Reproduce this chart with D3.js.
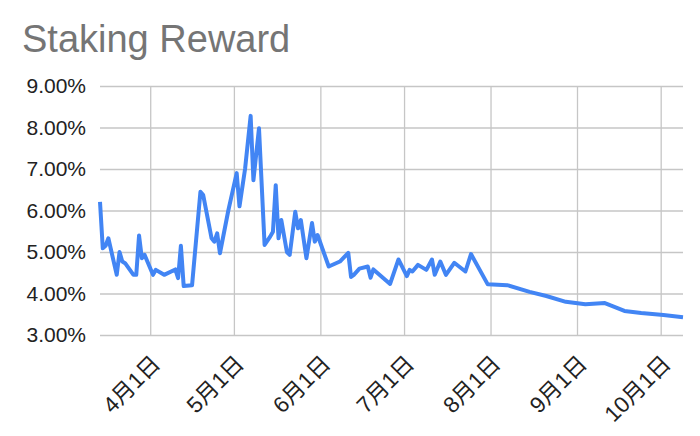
<!DOCTYPE html>
<html>
<head>
<meta charset="utf-8">
<script src="https://cdn.jsdelivr.net/npm/d3@7"></script>
<style>
  body { margin: 0; background: #fff; }
  text { font-family: "Liberation Sans", Arial, "Noto Sans CJK JP", sans-serif; }
</style>
</head>
<body>
<div id="chart"></div>
<script>
// Chart data
const rewardDates = [
  "2021-03-14", "2021-03-15", "2021-03-16", "2021-03-17", "2021-03-20", "2021-03-21",
  "2021-03-22", "2021-03-23", "2021-03-26", "2021-03-27", "2021-03-28", "2021-03-29",
  "2021-03-30", "2021-04-02", "2021-04-03", "2021-04-06", "2021-04-10", "2021-04-11",
  "2021-04-12", "2021-04-13", "2021-04-16", "2021-04-19", "2021-04-20", "2021-04-23",
  "2021-04-24", "2021-04-25", "2021-04-26", "2021-04-29", "2021-05-02", "2021-05-03",
  "2021-05-05", "2021-05-07", "2021-05-08", "2021-05-10", "2021-05-12", "2021-05-14",
  "2021-05-15", "2021-05-16", "2021-05-17", "2021-05-18", "2021-05-20", "2021-05-21",
  "2021-05-23", "2021-05-24", "2021-05-25", "2021-05-27", "2021-05-29", "2021-05-30",
  "2021-05-31", "2021-06-04", "2021-06-08", "2021-06-11", "2021-06-12", "2021-06-13",
  "2021-06-15", "2021-06-18", "2021-06-19", "2021-06-20", "2021-06-26", "2021-06-29",
  "2021-07-02", "2021-07-03", "2021-07-04", "2021-07-06", "2021-07-09", "2021-07-11",
  "2021-07-12", "2021-07-14", "2021-07-16", "2021-07-19", "2021-07-23", "2021-07-25",
  "2021-07-31", "2021-08-07", "2021-08-15", "2021-08-21", "2021-08-28", "2021-09-04",
  "2021-09-11", "2021-09-18", "2021-09-24", "2021-10-02", "2021-10-09"
];
const rewardValues = [
  6.21, 5.09, 5.15, 5.33, 4.45, 5.00,
  4.77, 4.73, 4.45, 4.45, 5.40, 4.85,
  4.93, 4.45, 4.57, 4.45, 4.58, 4.37,
  5.15, 4.18, 4.20, 6.45, 6.37, 5.33,
  5.25, 5.45, 4.97, 6.00, 6.90, 6.10,
  7.00, 8.28, 6.73, 7.98, 5.17, 5.37,
  5.49, 6.61, 5.33, 5.77, 5.00, 4.93,
  5.97, 5.57, 5.77, 4.85, 5.70, 5.25,
  5.41, 4.65, 4.77, 4.98, 4.40, 4.45,
  4.60, 4.65, 4.38, 4.58, 4.23, 4.82,
  4.42, 4.57, 4.53, 4.69, 4.57, 4.82,
  4.45, 4.77, 4.45, 4.74, 4.53, 4.95,
  4.22, 4.20, 4.04, 3.94, 3.80, 3.74,
  3.77, 3.58, 3.53, 3.48, 3.43
];
const xTickDates = ["2021-04-01", "2021-05-01", "2021-06-01", "2021-07-01", "2021-08-01", "2021-09-01", "2021-10-01"];
const xTickLabels = ["4月1日", "5月1日", "6月1日", "7月1日", "8月1日", "9月1日", "10月1日"];
const yTicks = [3, 4, 5, 6, 7, 8, 9];

// Layout
const width = 700, height = 436;
const plot = {left: 100, right: 683, top: 86, bottom: 335};

const parseDate = d3.timeParse("%Y-%m-%d");
const dataset = rewardDates.map((d, i) => ({date: parseDate(d), value: rewardValues[i]}));

let svg = d3.select("#chart")
  .append("svg")
    .attr("width", width)
    .attr("height", height);

// Scales
let x = d3.scaleTime()
  .domain(d3.extent(dataset, d => d.date))
  .range([plot.left, plot.right]);

let y = d3.scaleLinear()
  .domain([3, 9])
  .range([plot.bottom, plot.top]);

// Title
svg.append("text")
  .attr("x", 22)
  .attr("y", 52)
  .attr("font-size", "38px")
  .attr("fill", "#757575")
  .text("Staking Reward");

// Y axis + horizontal gridlines
let yAxis = svg.append("g")
  .attr("transform", "translate(" + plot.left + ",0)")
  .call(d3.axisLeft(y)
    .tickValues(yTicks)
    .tickSize(-(plot.right - plot.left))
    .tickPadding(14)
    .tickFormat(d => d.toFixed(2) + "%"));
yAxis.select(".domain").remove();
yAxis.selectAll("line").attr("stroke", "#c6c6c6").attr("stroke-width", 1.3);
yAxis.selectAll("text")
  .attr("font-size", "21px")
  .attr("fill", "#222");

// X axis + vertical gridlines
let xAxis = svg.append("g")
  .attr("transform", "translate(0," + plot.bottom + ")")
  .call(d3.axisBottom(x)
    .tickValues(xTickDates.map(parseDate))
    .tickSize(-(plot.bottom - plot.top))
    .tickFormat((d, i) => xTickLabels[i]));
xAxis.select(".domain").remove();
xAxis.selectAll("line").attr("stroke", "#c6c6c6").attr("stroke-width", 1.3);
xAxis.selectAll("text")
  .attr("x", 0)
  .attr("y", 0)
  .attr("dy", 0)
  .attr("transform", "translate(11,30) rotate(-45)")
  .style("text-anchor", "end")
  .attr("font-size", "22.5px")
  .attr("fill", "#222");

// Line
let line = d3.line()
  .x(d => x(d.date))
  .y(d => y(d.value));

svg.append("path")
  .datum(dataset)
  .attr("fill", "none")
  .attr("stroke", "#4285f4")
  .attr("stroke-width", 4)
  .attr("stroke-linejoin", "round")
  .attr("d", line);
</script>
</body>
</html>
